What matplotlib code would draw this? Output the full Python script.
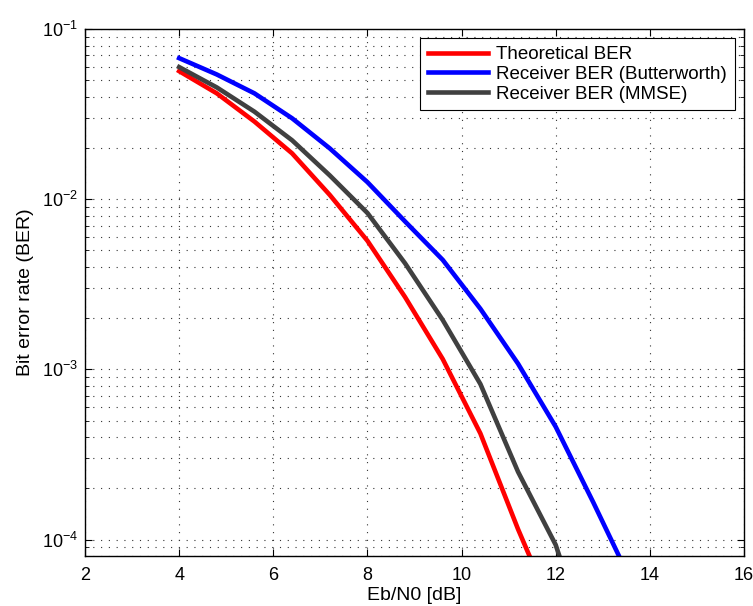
import numpy as np
import matplotlib
matplotlib.use("Agg")
from matplotlib import pyplot as plt
from matplotlib.ticker import LogLocator, NullFormatter, MultipleLocator

# Eb/N0 points (dB)
ebn0 = [4.0, 4.8, 5.6, 6.4, 7.2, 8.0, 8.8, 9.6, 10.4, 11.2, 12.0, 12.8, 13.6]

ber_theory = [0.0566, 0.0419, 0.0286, 0.0186, 0.0106, 5.7e-3, 2.66e-3,
              1.15e-3, 4.2e-4, 1.15e-4, 3.5e-5]
ber_butter = [0.0675, 0.0541, 0.0419, 0.0299, 0.0199, 0.0126, 7.4e-3,
              4.4e-3, 2.27e-3, 1.08e-3, 4.6e-4, 1.65e-4, 5.7e-5]
ber_mmse = [0.0598, 0.0454, 0.0327, 0.0222, 0.0138, 8.3e-3, 4.2e-3,
            1.95e-3, 8.2e-4, 2.5e-4, 9.3e-5, 2.0e-5]

labels = ["Theoretical BER", "Receiver BER (Butterworth)", "Receiver BER (MMSE)"]

plt.rcParams['font.family'] = ['Liberation Sans', 'DejaVu Sans']

fig = plt.figure(figsize=(7.53, 6.06), dpi=100)
ax = fig.add_axes([0.1129, 0.0825, 0.8751, 0.8695])

ax.semilogy(ebn0[:len(ber_theory)], ber_theory, color=(1, 0, 0), lw=3.3, label=labels[0])
ax.semilogy(ebn0[:len(ber_butter)], ber_butter, color=(0, 0, 1), lw=3.3, label=labels[1])
ax.semilogy(ebn0[:len(ber_mmse)], ber_mmse, color="#404040", lw=3.3, label=labels[2])

ax.set_xlim(2, 16)
ax.set_ylim(8e-5, 1e-1)
ax.xaxis.set_major_locator(MultipleLocator(2))
ax.yaxis.set_major_locator(LogLocator(base=10, numticks=10))
ax.yaxis.set_minor_locator(LogLocator(base=10, subs=np.arange(2, 10), numticks=50))
ax.yaxis.set_minor_formatter(NullFormatter())

ax.grid(True, which="major", linestyle=(0, (1, 6)), color="0.2", lw=0.8)
ax.grid(True, which="minor", axis="y", linestyle=(0, (1, 6)), color="0.2", lw=0.8)

ax.tick_params(which="both", direction="in", top=True, right=True, labelsize=13)
ax.tick_params(which="major", length=5)
ax.tick_params(which="minor", length=3)
ax.tick_params(axis="x", pad=8)
ax.tick_params(axis="y", pad=5)
for s in ax.spines.values():
    s.set_linewidth(1.0)

ax.set_xlabel("Eb/N0 [dB]", fontsize=14, labelpad=2)
ax.set_ylabel("Bit error rate (BER)", fontsize=14, labelpad=6)

leg = ax.legend(loc="upper right", fontsize=13.5, handlelength=3.2, fancybox=False,
                framealpha=1, edgecolor="black", borderaxespad=0.5,
                labelspacing=0.15, handletextpad=0.45, borderpad=0.4)
leg.get_frame().set_linewidth(0.8)

fig.savefig("out.png", dpi=100)
